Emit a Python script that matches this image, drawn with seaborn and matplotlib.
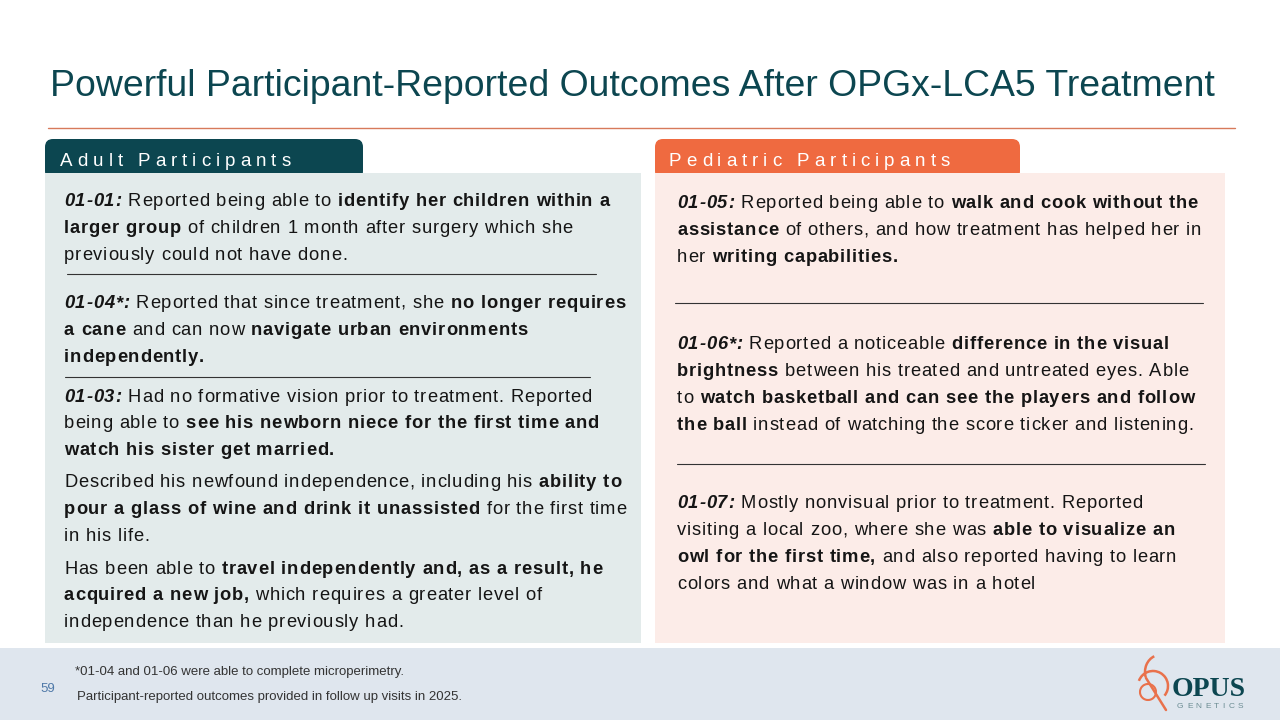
import matplotlib
matplotlib.use('Agg')
import matplotlib.pyplot as plt
import seaborn as sns
from matplotlib.patches import Rectangle, FancyBboxPatch, Arc

# ---- slide content ----
title = "Powerful Participant-Reported Outcomes After OPGx-LCA5 Treatment"
adult_header = "Adult Participants"
pediatric_header = "Pediatric Participants"

# each line is a list of (text, style) runs; style: r = regular, b = bold, bi = bold italic
adult_lines = [
    [("01-01:", "bi"), (" Reported being able to ", "r"), ("identify her children within a", "b")],
    [("larger group", "b"), (" of children 1 month after surgery which she", "r")],
    [("previously could not have done.", "r")],
    [("01-04*:", "bi"), (" Reported that since treatment, she ", "r"), ("no longer requires", "b")],
    [("a cane", "b"), (" and can now ", "r"), ("navigate urban environments", "b")],
    [("independently.", "b")],
    [("01-03:", "bi"), (" Had no formative vision prior to treatment. Reported", "r")],
    [("being able to ", "r"), ("see his newborn niece for the first time and", "b")],
    [("watch his sister get married.", "b")],
    [("Described his newfound independence, including his ", "r"), ("ability to", "b")],
    [("pour a glass of wine and drink it unassisted", "b"), (" for the first time", "r")],
    [("in his life.", "r")],
    [("Has been able to ", "r"), ("travel independently and, as a result, he", "b")],
    [("acquired a new job,", "b"), (" which requires a greater level of", "r")],
    [("independence than he previously had.", "r")],
]
adult_line_y = [206, 233, 260, 308, 335, 362, 402, 428, 455, 487, 514, 541, 574, 600, 627]

pediatric_lines = [
    [("01-05:", "bi"), (" Reported being able to ", "r"), ("walk and cook without the", "b")],
    [("assistance", "b"), (" of others, and how treatment has helped her in", "r")],
    [("her ", "r"), ("writing capabilities.", "b")],
    [("01-06*:", "bi"), (" Reported a noticeable ", "r"), ("difference in the visual", "b")],
    [("brightness", "b"), (" between his treated and untreated eyes. Able", "r")],
    [("to ", "r"), ("watch basketball and can see the players and follow", "b")],
    [("the ball", "b"), (" instead of watching the score ticker and listening.", "r")],
    [("01-07:", "bi"), (" Mostly nonvisual prior to treatment. Reported", "r")],
    [("visiting a local zoo, where she was ", "r"), ("able to visualize an", "b")],
    [("owl for the first time,", "b"), (" and also reported having to learn", "r")],
    [("colors and what a window was in a hotel", "r")],
]
pediatric_line_y = [208, 235, 262, 349, 376, 403, 430, 508, 535, 562, 589]

footnotes = ["*01-04 and 01-06 were able to complete microperimetry.",
             "Participant-reported outcomes provided in follow up visits in 2025."]
page_number = "59"

# ---- colours ----
teal = "#0C4650"
orange = "#EF6A40"
logo_orange = "#E9714B"
adult_bg = "#E3EBEB"
ped_bg = "#FCECE8"
footer_bg = "#DFE6EE"
text_col = "#151515"

sns.set_theme(style="white")
plt.rcParams['font.family'] = ['Liberation Sans', 'DejaVu Sans']

fig = plt.figure(figsize=(12.8, 7.2), dpi=100)
ax = fig.add_axes([0, 0, 1, 1])
ax.set_xlim(0, 1280)
ax.set_ylim(720, 0)
ax.axis('off')
renderer = fig.canvas.get_renderer()

STYLES = {"r": dict(fontweight="normal", fontstyle="normal"),
          "b": dict(fontweight="bold", fontstyle="normal"),
          "bi": dict(fontweight="bold", fontstyle="italic")}

_width_cache = {}


def text_width(s, size, style="r", family=None):
    key = (s, size, style, family)
    if key not in _width_cache:
        kw = dict(STYLES[style])
        if family:
            kw["family"] = family
        # measure with a sentinel so spaces count
        t1 = ax.text(0, 0, s + "x", fontsize=size, **kw)
        t2 = ax.text(0, 0, "x", fontsize=size, **kw)
        _width_cache[key] = (t1.get_window_extent(renderer).width
                             - t2.get_window_extent(renderer).width)
        t1.remove()
        t2.remove()
    return _width_cache[key]


def draw_spaced(x, y, s, size, color, tracking, style="r", family=None):
    kw = dict(STYLES[style])
    if family:
        kw["family"] = family
    for ch in s:
        if ch != " ":
            ax.text(x, y, ch, fontsize=size, color=color, va="baseline", ha="left", **kw)
        x += text_width(ch, size, style, family) + tracking
    return x


def draw_runs(x, y, runs, size=13.2, color=text_col, tracking=0.8):
    for s, st in runs:
        x = draw_spaced(x, y, s, size, color, tracking, st)


# title and rule
ax.text(50, 96, title, fontsize=26.9, color=teal, va="baseline", ha="left")
ax.plot([48, 1235], [128, 128], color="#D77A5B", lw=1.0)

# panels
ax.add_patch(Rectangle((45, 173), 596, 470, facecolor=adult_bg, edgecolor="none"))
ax.add_patch(Rectangle((655, 173), 570, 470, facecolor=ped_bg, edgecolor="none"))
ax.add_patch(FancyBboxPatch((45, 139), 318, 40, boxstyle="round,pad=0,rounding_size=8",
                            facecolor=teal, edgecolor="none"))
ax.add_patch(FancyBboxPatch((655, 139), 365, 40, boxstyle="round,pad=0,rounding_size=8",
                            facecolor=orange, edgecolor="none"))
ax.add_patch(Rectangle((45, 173), 596, 8, facecolor=adult_bg, edgecolor="none"))
ax.add_patch(Rectangle((655, 173), 570, 8, facecolor=ped_bg, edgecolor="none"))
draw_spaced(60, 166, adult_header, 13.5, "white", 5.0)
draw_spaced(669, 166, pediatric_header, 13.5, "white", 5.0)

# body text
for runs, y in zip(adult_lines, adult_line_y):
    draw_runs(64, y, runs)
for runs, y in zip(pediatric_lines, pediatric_line_y):
    draw_runs(677, y, runs)

# separators
ax.plot([67, 596], [274, 274], color="#333333", lw=0.8)
ax.plot([65, 590], [377, 377], color="#333333", lw=0.8)
ax.plot([675, 1203], [303, 303], color="#333333", lw=0.8)
ax.plot([677, 1205], [464, 464], color="#333333", lw=0.8)

# footer
ax.add_patch(Rectangle((0, 648), 1280, 72, facecolor=footer_bg, edgecolor="none"))
ax.text(75, 675, footnotes[0], fontsize=9.5, color="#333333", va="baseline")
ax.text(77, 700, footnotes[1], fontsize=9.5, color="#333333", va="baseline")
ax.text(40, 692, page_number, fontsize=9.5, color="#4F79A8", va="baseline")

# logo
ax.add_patch(Arc((1153, 686), 30, 30, theta1=200, theta2=40, color=logo_orange, lw=1.8))
ax.add_patch(Arc((1160, 672), 30, 34, theta1=160, theta2=250, color=logo_orange, lw=1.8))
ax.plot([1146, 1166], [678, 710], color=logo_orange, lw=1.8)
ax.add_patch(Arc((1148, 692), 16, 16, theta1=0, theta2=360, color=logo_orange, lw=1.5))
ax.text(1172, 696, "OPUS", fontsize=20, fontweight="bold", family="Liberation Serif",
        color=teal, va="baseline")
draw_spaced(1177, 708, "GENETICS", 6.0, "#6B8C93", 3.4)

fig.savefig("out.png", dpi=100)
